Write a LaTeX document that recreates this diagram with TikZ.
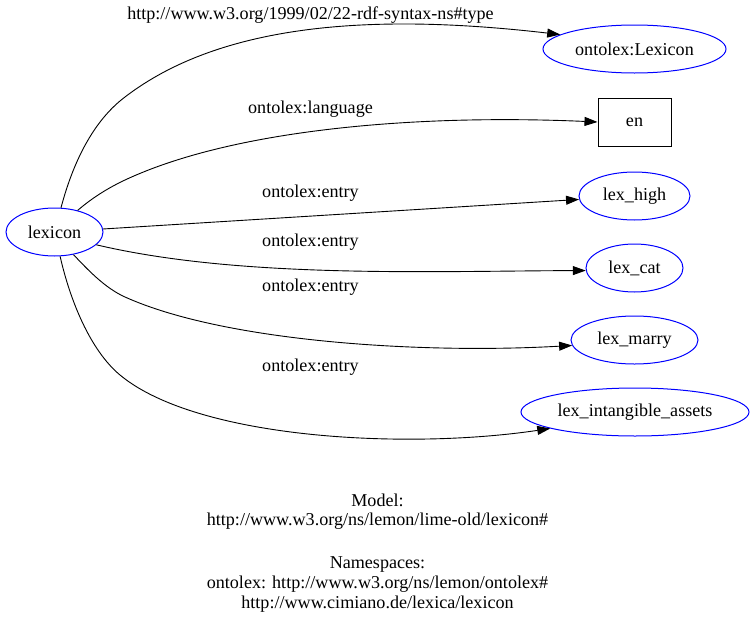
\documentclass[tikz,border=0pt]{standalone}
\usepackage{fontspec}
\setmainfont{Liberation Serif}
\usetikzlibrary{shapes.geometric,arrows.meta}
\begin{document}
\begin{tikzpicture}[x=1pt,y=-1pt,
  every node/.style={font=\fontsize{18.1}{21}\selectfont},
  res/.style={ellipse,draw=blue,line width=1pt,inner sep=0pt},
  lit/.style={rectangle,draw=black,line width=1pt,inner sep=0pt,minimum width=73pt,minimum height=48pt},
  lbl/.style={inner sep=0pt,anchor=center},
  edge/.style={draw=black,line width=0.9pt,-{Triangle[length=13pt,width=9pt]}}]
\useasboundingbox (0,0) rectangle (755,624);
\node[res,minimum width=97pt,minimum height=48pt] (lexicon) at (54.5,232) {lexicon};
\node[res,minimum width=183pt,minimum height=48pt] (lexLexicon) at (634.5,49) {ontolex:Lexicon};
\node[lit] (en) at (634.5,122) {en};
\node[res,minimum width=111pt,minimum height=48pt] (lexhigh) at (634.5,196) {lex\_high};
\node[res,minimum width=97pt,minimum height=48pt] (lexcat) at (634.5,268) {lex\_cat};
\node[res,minimum width=127pt,minimum height=48pt] (lexmarry) at (634.5,340) {lex\_marry};
\node[res,minimum width=228pt,minimum height=48pt] (lexint) at (635,412) {lex\_intangible\_assets};

\draw[edge] (lexicon.75) .. controls (75,155) and (97,118) .. (125,97) .. controls (228,18) and (391,15) .. (lexLexicon.169);
\draw[edge] (lexicon.43) .. controls (92,198) and (108,188) .. (125,180) .. controls (234,129) and (418,114) .. (en.west);
\draw[edge] (lexicon) -- (lexhigh);
\draw[edge] (lexicon.-17) .. controls (241,279) and (436,271) .. (lexcat.183);
\draw[edge] (lexicon.-50) .. controls (88,270) and (105,288) .. (125,297) .. controls (225,342) and (422,354) .. (lexmarry.185);
\draw[edge] (lexicon.-77) .. controls (70,300) and (90,350) .. (120,375) .. controls (197,439) and (406,450) .. (lexint.191);

\node[lbl] (l1) at (310.5,15) {http://www.w3.org/1999/02/22-rdf-syntax-ns\#type};
\node[lbl] (l2) at (310.5,109) {ontolex:language};
\node[lbl] (l3) at (310.5,193) {ontolex:entry};
\node[lbl] (l4) at (310.5,242) {ontolex:entry};
\node[lbl] (l5) at (310.5,287) {ontolex:entry};
\node[lbl] (l6) at (310.5,367) {ontolex:entry};

\node[lbl] (m1) at (377.5,500) {Model:};
\node[lbl] (m2) at (377.5,521) {http://www.w3.org/ns/lemon/lime-old/lexicon\#};
\node[lbl] (m3) at (377.5,564) {Namespaces:};
\node[lbl] (m4) at (377.5,584) {ontolex: http://www.w3.org/ns/lemon/ontolex\#};
\node[lbl] (m5) at (377.5,604) {http://www.cimiano.de/lexica/lexicon};
\end{tikzpicture}
\end{document}
